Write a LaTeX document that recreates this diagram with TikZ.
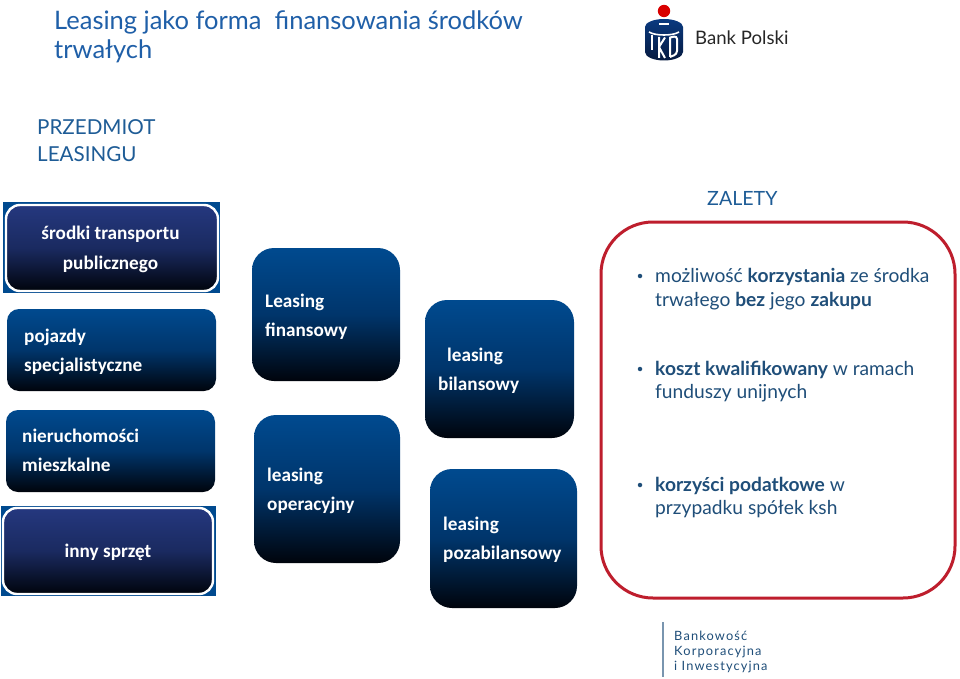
\documentclass[tikz,border=0pt]{standalone}
\usepackage{fontspec}
\setmainfont{Lato}
\newfontfamily\boxfont{Carlito}
\definecolor{titleblue}{HTML}{1F5FA8}
\definecolor{headblue}{HTML}{1E5C96}
\definecolor{bodyblue}{HTML}{1F4E79}
\definecolor{boxtop}{HTML}{004A8F}
\definecolor{boxmid}{HTML}{00356B}
\definecolor{navytop}{HTML}{25387F}
\definecolor{navymid}{HTML}{1A2A60}
\definecolor{boxbot}{HTML}{00040C}
\definecolor{framered}{HTML}{BE1E2D}
\definecolor{logoblue}{HTML}{0A3A80}
\definecolor{logodark}{HTML}{061A40}
\tikzset{
 x=1pt,y=-1pt,
 dims/.style 2 args={minimum width=#1pt,minimum height=#2pt},
 bluebox/.style={rectangle,rounded corners=#1,top color=boxtop,bottom color=boxbot,middle color=boxmid,inner sep=0pt,outer sep=0pt},
 navybox/.style={rectangle,rounded corners=14pt,top color=navytop,bottom color=boxbot,middle color=navymid,draw=white,line width=2.4pt,inner sep=0pt,outer sep=0pt},
 plate/.style={rectangle,fill=boxtop,inner sep=0pt,outer sep=0pt},
 boxtext/.style={font=\boxfont\fontsize{19.2}{19.2}\selectfont\bfseries,text=white,anchor=base west,inner sep=0pt},
 boxtextc/.style={boxtext,anchor=base},
 bodytext/.style={font=\fontsize{19.2}{19.2}\selectfont,text=bodyblue,anchor=base west,inner sep=0pt},
 bullet/.style={circle,fill=bodyblue,inner sep=0pt,minimum size=4.5pt},
 headtext/.style={font=\fontsize{20.6}{20.6}\selectfont,text=headblue,anchor=base west,inner sep=0pt},
 titletext/.style={font=\fontsize{25.5}{25.5}\selectfont,text=titleblue,anchor=base west,inner sep=0pt},
 foottext/.style={font=\fontsize{12.8}{12.8}\selectfont,text=bodyblue,anchor=base west,inner sep=0pt},
}
\begin{document}
\begin{tikzpicture}
\useasboundingbox (0,0) rectangle (960,679);
\fill[white] (0,0) rectangle (960,679);
% titles
\node[titletext] (t1) at (54,30) {Leasing jako forma\ \ finansowania środków};
\node[titletext] (t2) at (54,59) {trwałych};
\node[headtext] (p1) at (37,135) {PRZEDMIOT};
\node[headtext] (p2) at (37,161) {LEASINGU};
\node[font=\fontsize{19.6}{19.6}\selectfont,text=headblue,anchor=base west,inner sep=0pt] (z) at (707,205) {ZALETY};
% logo
\fill[red!85!black] (664,11) circle[radius=6.2pt];
\shade[top color=logoblue,bottom color=logodark] (645,27) arc[start angle=180,end angle=0,x radius=19pt,y radius=8pt] -- (683,52) arc[start angle=0,end angle=-180,x radius=19pt,y radius=8.5pt] -- cycle;
\fill[white] (659,23.2) rectangle (669,24.6);
\draw[white,line width=1.6pt] (649,32) .. controls (655,36) and (673,36) .. (679,32);
\draw[white,line width=2pt] (652,35) -- (652,50);
\draw[white,line width=2pt] (659,37) -- (659,58) (659,47) -- (665,37.5) (659,47) -- (665,58);
\draw[white,line width=2pt,rounded corners=3pt] (670,37) -- (670,57) (670,37.5) -- (677,36) -- (677,54) -- (670,57);
\node[font=\fontsize{18.6}{18.6}\selectfont,text=black!85,anchor=base west,inner sep=0pt] (bp) at (695,45) {Bank Polski};
% left column
\node[plate,dims={217}{91}] (pa) at (111.5,247.5) {};
\node[navybox,dims={212}{86}] (a) at (112,248) {};
\node[boxtextc] (at1) at (110.5,239) {środki transportu};
\node[boxtextc] (at2) at (110.5,269) {publicznego};
\node[bluebox=12pt,dims={209}{82}] (b) at (111.5,350) {};
\node[boxtext] (bt1) at (24,342) {pojazdy};
\node[boxtext] (bt2) at (24,371) {specjalistyczne};
\node[bluebox=12pt,dims={209}{82}] (c) at (110.5,451) {};
\node[boxtext] (ct1) at (22,442) {nieruchomości};
\node[boxtext] (ct2) at (22,471) {mieszkalne};
\node[plate,dims={215}{90}] (pd) at (108.5,551) {};
\node[navybox,dims={210}{86}] (d) at (108,551) {};
\node[boxtextc] (dt) at (108,557) {inny sprzęt};
% middle columns
\node[bluebox=22pt,dims={148}{133}] (e) at (326,314.5) {};
\node[boxtext] (et1) at (265,307) {Leasing};
\node[boxtext] (et2) at (265,336) {finansowy};
\node[bluebox=22pt,dims={149}{138}] (f) at (499.5,369) {};
\node[boxtext] (ft1) at (447,361) {leasing};
\node[boxtext] (ft2) at (438,390) {bilansowy};
\node[bluebox=22pt,dims={146}{148}] (g) at (327,489) {};
\node[boxtext] (gt1) at (267,481) {leasing};
\node[boxtext] (gt2) at (267,510) {operacyjny};
\node[bluebox=22pt,dims={147}{139}] (h) at (503.5,538.5) {};
\node[boxtext] (ht1) at (443,530) {leasing};
\node[boxtext] (ht2) at (443,559) {pozabilansowy};
% red frame
\node[rectangle,rounded corners=52pt,draw=framered,line width=3pt,fill=white,dims={354}{376},inner sep=0pt] (frame) at (778,410) {};
\node[bullet] (b1) at (640,276) {};
\node[bodytext] (l1) at (655,282) {możliwość \textbf{korzystania} ze środka};
\node[bodytext] (l2) at (655,306) {trwałego \textbf{bez} jego \textbf{zakupu}};
\node[bullet] (b2) at (640,369) {};
\node[bodytext] (l3) at (655,375) {\textbf{koszt kwalifikowany} w ramach};
\node[bodytext] (l4) at (655,398) {funduszy unijnych};
\node[bullet] (b3) at (640,485) {};
\node[bodytext] (l5) at (655,491) {\textbf{korzyści podatkowe} w};
\node[bodytext] (l6) at (655,514) {przypadku spółek ksh};
% footer
\coordinate (fa) at (663,622);
\coordinate (fb) at (663,677);
\draw[bodyblue!60,line width=1.3pt] (fa) -- (fb);
\node[foottext] (f1) at (674,640) {\addfontfeature{LetterSpace=9}Bankowość};
\node[foottext] (f2) at (674,655) {\addfontfeature{LetterSpace=9}Korporacyjna};
\node[foottext] (f3) at (674,670) {\addfontfeature{LetterSpace=9}i Inwestycyjna};
\end{tikzpicture}
\end{document}
